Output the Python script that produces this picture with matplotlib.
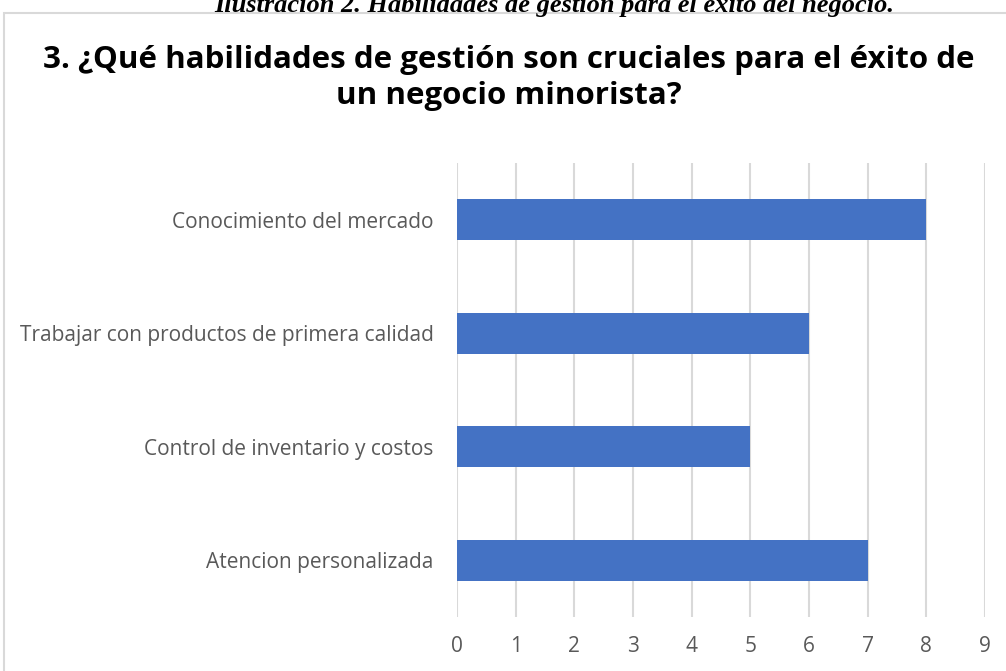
import matplotlib.pyplot as plt
from matplotlib.patches import Rectangle

# Datos del gráfico
categorias = ['Atencion personalizada', 'Control de inventario y costos',
              'Trabajar con productos de primera calidad', 'Conocimiento del mercado']
valores = [7, 5, 6, 8]
ticks_x = [0, 1, 2, 3, 4, 5, 6, 7, 8, 9]

titulo = '3. ¿Qué habilidades de gestión son cruciales para el éxito de\nun negocio minorista?'
leyenda = 'Ilustración 2. Habilidades de gestión para el éxito del negocio.'

plt.rcParams['font.family'] = ['Open Sans', 'DejaVu Sans']

fig = plt.figure(figsize=(10.06, 6.71), dpi=100)
W, H = 1006, 671

# Marco del gráfico
fig.patches.append(Rectangle((4 / W, -0.1), 1.2, (671 - 13) / H + 0.1, transform=fig.transFigure,
                             fill=False, edgecolor='#D9D9D9', linewidth=1.5))

# Leyenda superior (cortada)
fig.text(554 / W, 1 - 12 / H, leyenda, ha='center', va='baseline', fontsize=19,
         family='Liberation Serif', fontweight='bold', fontstyle='italic')

# Título
fig.text(509 / W, 1 - 78 / H, titulo, ha='center', va='center', fontsize=22.5,
         fontweight='bold', linespacing=1.3)

ax = fig.add_axes([457 / W, 1 - 617 / H, (985 - 457) / W, (617 - 163) / H])
ax.barh(range(len(categorias)), valores, height=0.36, color='#4472C4', zorder=3)
ax.set_xlim(0, 9)
ax.set_ylim(-0.5, len(categorias) - 0.5)
ax.set_xticks(ticks_x)
ax.set_yticks(range(len(categorias)))
ax.set_yticklabels(categorias)
ax.grid(axis='x', color='#D9D9D9', linewidth=1.5, zorder=0)
for s in ax.spines.values():
    s.set_visible(False)
ax.tick_params(length=0, labelsize=15, colors='#595959')
ax.tick_params(axis='x', pad=14)
ax.tick_params(axis='y', pad=17)

fig.savefig('out.png', dpi=100)
